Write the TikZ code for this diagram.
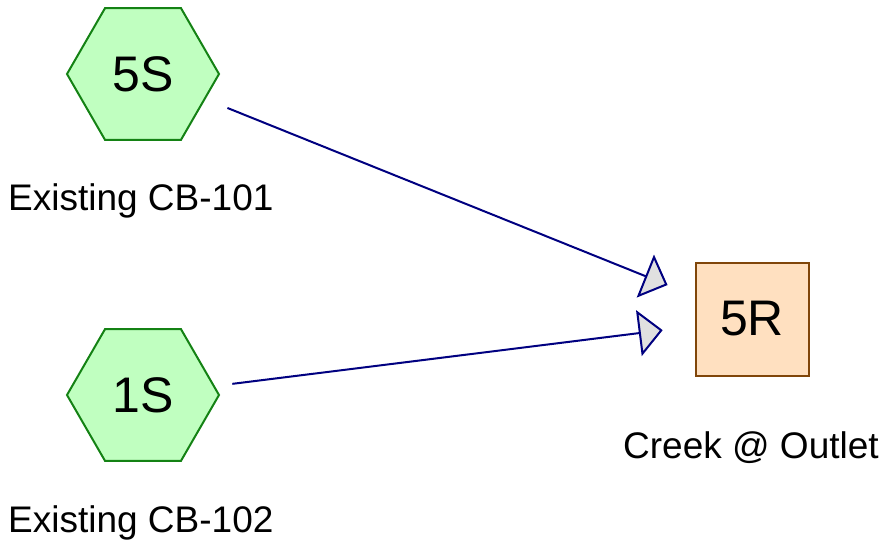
\documentclass[tikz,border=0pt]{standalone}
\usepackage{fontspec}
\setmainfont{Liberation Sans}
\usetikzlibrary{arrows.meta,positioning,shapes.geometric}
\definecolor{subGreen}{RGB}{192,255,192}
\definecolor{subGreenLine}{RGB}{20,130,20}
\definecolor{reachPeach}{RGB}{255,224,192}
\definecolor{reachBrown}{RGB}{128,70,10}
\definecolor{linkNavy}{RGB}{0,0,128}
\definecolor{tipGray}{RGB}{224,224,224}

\tikzset{
  subcat/.style={regular polygon, regular polygon sides=6,
    minimum size=152pt, inner sep=0pt, fill=subGreen, draw=subGreenLine,
    line width=2pt, font=\fontsize{50}{54}\selectfont},
  reach/.style={rectangle, minimum size=113pt, inner sep=0pt, fill=reachPeach,
    draw=reachBrown, line width=2pt, font=\fontsize{50}{54}\selectfont},
  caption/.style={inner sep=0pt, font=\fontsize{37}{40}\selectfont},
  link/.style={draw=linkNavy, line width=2pt,
    -{Triangle[length=24pt,width=46pt,fill=tipGray]}}
}

\begin{document}
\begin{tikzpicture}[x=1pt,y=-1pt]
\useasboundingbox (0,0) rectangle (887,546);
\node[subcat] (s5) at (143,74) {5S};
\node[subcat] (s1) at (143,395) {1S};
\node[reach] (r5) at (752,319) {5R};
\node[caption, anchor=base west] (s5cap) at (8,210) {Existing CB-101};
\node[caption, anchor=base west] (s1cap) at (8,532) {Existing CB-102};
\node[caption, anchor=base west] (r5cap) at (623,458) {Creek @ Outlet};
\draw[link, shorten <=91pt, shorten >=91pt] (s5.center) -- (r5.center);
\draw[link, shorten <=90pt, shorten >=90pt] (s1.center) -- (r5.center);
\end{tikzpicture}
\end{document}
